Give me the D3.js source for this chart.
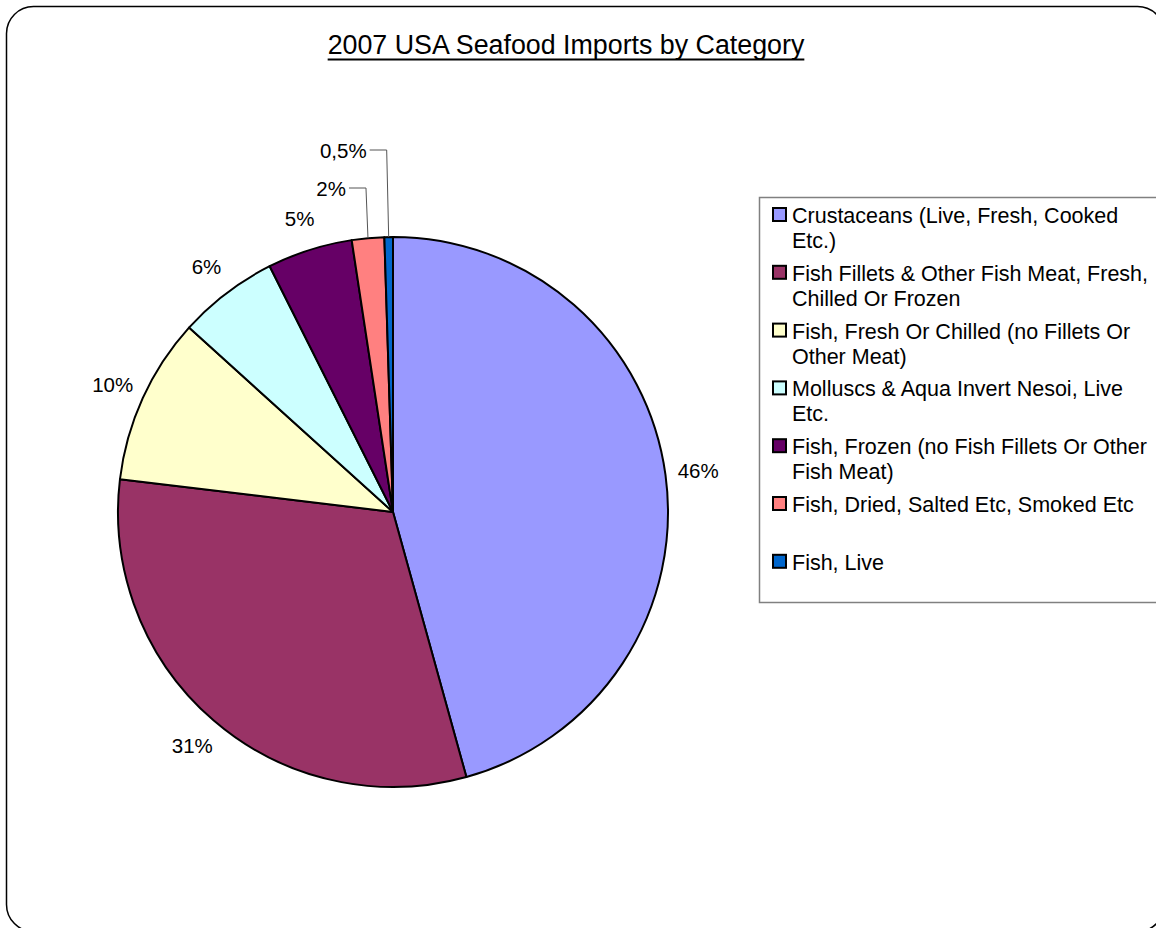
<!DOCTYPE html>
<html>
<head>
<meta charset="utf-8">
<script src="https://cdn.jsdelivr.net/npm/d3@7"></script>
<style>
  html, body { margin: 0; padding: 0; background: #fff; }
  svg { display: block; }
  text { font-family: "Liberation Sans", Arial, sans-serif; fill: #000; }
</style>
</head>
<body>
<svg id="chart" width="1156" height="928"></svg>
<script>
// ---- data ----
const title = "2007 USA Seafood Imports by Category";
const categories = [
  "Crustaceans (Live, Fresh, Cooked Etc.)",
  "Fish Fillets & Other Fish Meat, Fresh, Chilled Or Frozen",
  "Fish, Fresh Or Chilled (no Fillets Or Other Meat)",
  "Molluscs & Aqua Invert Nesoi, Live Etc.",
  "Fish, Frozen (no Fish Fillets Or Other Fish Meat)",
  "Fish, Dried, Salted Etc, Smoked Etc",
  "Fish, Live"
];
const shares = [45.7, 31.2, 9.8, 5.9, 5.0, 1.9, 0.5];
const shareLabels = ["46%", "31%", "10%", "6%", "5%", "2%", "0,5%"];
const colors = ["#9999FF", "#993366", "#FFFFCC", "#CCFFFF", "#660066", "#FF8080", "#0066CC"];

// ---- layout ----
const cx = 393, cy = 512, R = 275;
const labelR = 308;
const leaderLift = { 5: 49, 6: 87 };   // slices whose labels are lifted with leader lines
const svg = d3.select("#chart");

// outer rounded frame
svg.append("rect")
  .attr("x", 6.5).attr("y", 6.5)
  .attr("width", 1158).attr("height", 925)
  .attr("rx", 27).attr("ry", 27)
  .attr("fill", "none").attr("stroke", "#000").attr("stroke-width", 1.5);

// title
const t = svg.append("text")
  .attr("x", 566).attr("y", 54)
  .attr("text-anchor", "middle")
  .attr("font-size", 26.8)
  .text(title);
const tw = t.node().getComputedTextLength();
svg.append("line")
  .attr("x1", 566 - tw / 2).attr("x2", 566 + tw / 2)
  .attr("y1", 59.5).attr("y2", 59.5)
  .attr("stroke", "#000").attr("stroke-width", 2);

// pie
const pie = d3.pie().sort(null).value(d => d)(shares);
const arc = d3.arc().innerRadius(0).outerRadius(R);
const lblArc = d3.arc().innerRadius(labelR).outerRadius(labelR);
const g = svg.append("g").attr("transform", `translate(${cx},${cy})`);

g.selectAll("path.slice")
  .data(pie)
  .join("path")
  .attr("class", "slice")
  .attr("d", arc)
  .attr("fill", (d, i) => colors[i])
  .attr("stroke", "#000")
  .attr("stroke-width", 2)
  .attr("stroke-linejoin", "round");

// labels
pie.forEach((d, i) => {
  const mid = (d.startAngle + d.endAngle) / 2;
  if (leaderLift[i] !== undefined) {
    const px = R * Math.sin(mid), py = -R * Math.cos(mid);
    const ly = -R - leaderLift[i];
    const lx = px - 19;
    g.append("path")
      .attr("d", `M${px},${py}L${px - 2},${ly}L${lx},${ly}`)
      .attr("fill", "none").attr("stroke", "#555").attr("stroke-width", 1);
    g.append("text")
      .attr("x", lx - 3).attr("y", ly)
      .attr("text-anchor", "end")
      .attr("dominant-baseline", "central")
      .attr("font-size", 20.5)
      .text(shareLabels[i]);
  } else {
    const [x, y] = lblArc.centroid(d);
    g.append("text")
      .attr("x", x).attr("y", y)
      .attr("text-anchor", "middle")
      .attr("dominant-baseline", "central")
      .attr("font-size", 20.5)
      .text(shareLabels[i]);
  }
});

// legend
const lgX = 759.5, lgY = 197.5;
svg.append("rect")
  .attr("x", lgX).attr("y", lgY)
  .attr("width", 420).attr("height", 405)
  .attr("fill", "#fff").attr("stroke", "#808080").attr("stroke-width", 1.5);

const itemStep = 57.8, lineH = 25, firstBase = 223, maxW = 362;
categories.forEach((name, i) => {
  const base = firstBase + i * itemStep;
  svg.append("rect")
    .attr("x", 773).attr("y", base - 15)
    .attr("width", 13).attr("height", 13)
    .attr("fill", colors[i]).attr("stroke", "#000").attr("stroke-width", 2);
  const txt = svg.append("text").attr("x", 792).attr("y", base).attr("font-size", 21.5);
  const words = name.split(" ");
  let line = [], lineNo = 0;
  let ts = txt.append("tspan").attr("x", 792).attr("y", base);
  words.forEach(w => {
    line.push(w);
    ts.text(line.join(" "));
    if (ts.node().getComputedTextLength() > maxW && line.length > 1) {
      line.pop();
      ts.text(line.join(" "));
      line = [w];
      lineNo++;
      ts = txt.append("tspan").attr("x", 792).attr("y", base + lineNo * lineH).text(w);
    }
  });
});
</script>
</body>
</html>
